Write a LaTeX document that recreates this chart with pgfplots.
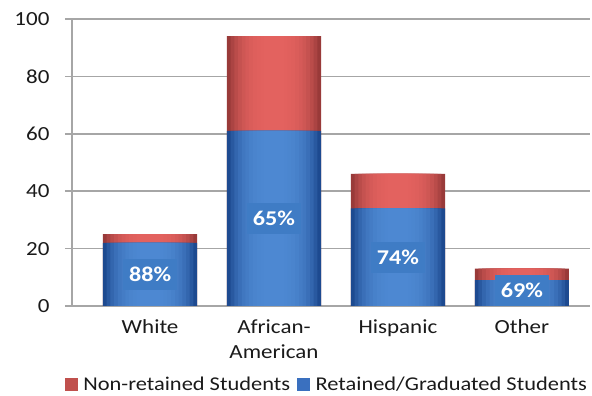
\documentclass[border=0pt]{standalone}
\usepackage{pgfplots}
\usepackage{pgfplotstable}
\pgfplotsset{compat=1.18}
\usepackage{fontspec}
\setmainfont{Carlito}[FakeStretch=1.15]
\definecolor{blueMid}{HTML}{4D88D2}
\definecolor{blueEdge}{HTML}{1D4A90}
\definecolor{redMid}{HTML}{E3625F}
\definecolor{redEdge}{HTML}{993A39}
\definecolor{boxBlue}{HTML}{3F7CC5}
\definecolor{legRed}{HTML}{C0504D}
\definecolor{legBlue}{HTML}{3A70BF}
\definecolor{gridGray}{HTML}{A6A6A6}
\definecolor{txt}{HTML}{1A1A1A}
\pgfplotstableread{
x ret total
0 22 25
1 61 94
2 34 46
3 9 13
}\data
\pgfplotstableread{
x y lab
0 11 88\%
1 30.5 65\%
2 17 74\%
3 5.5 69\%
}\labels
% one layer of a bar: width, colour mix (percent of middle colour), column
\newcommand\layer[4]{\addplot[ybar, bar shift=0pt, bar width=#1, draw=none,
  fill=#4Mid!#2!#4Edge, forget plot] table[x=x,y=#3]{\data};}
\newcommand\shadedbars[2]{%
  \layer{0.76}{0}{#1}{#2}
  \layer{0.70}{25}{#1}{#2}
  \layer{0.64}{45}{#1}{#2}
  \layer{0.58}{60}{#1}{#2}
  \layer{0.52}{72}{#1}{#2}
  \layer{0.46}{81}{#1}{#2}
  \layer{0.40}{88}{#1}{#2}
  \layer{0.34}{93}{#1}{#2}
  \layer{0.28}{96}{#1}{#2}
  \layer{0.22}{98}{#1}{#2}
  \layer{0.16}{100}{#1}{#2}
}
\begin{document}
\begin{tikzpicture}
\useasboundingbox (-72pt,-90pt) rectangle (520pt,306pt);
\begin{axis}[
  at={(0pt,0pt)}, anchor=south west,
  scale only axis, width=518pt, height=287pt,
  xmin=-0.63, xmax=3.55, ymin=0, ymax=100,
  xtick={0,1,2,3},
  xticklabels={White,{African-\\American},Hispanic,Other},
  xticklabel style={align=center, font=\fontsize{20}{25}\selectfont, text=txt},
  x tick style={draw=none},
  ytick={0,20,40,60,80,100},
  yticklabel style={font=\fontsize{20}{22}\selectfont, text=txt},
  /pgf/number format/assume math mode=true,
  tick align=outside, major tick length=7pt,
  y tick style={draw=gridGray, line width=1.5pt},
  ymajorgrids, grid style={draw=gridGray, line width=1.5pt},
  axis x line*=bottom, axis y line*=left,
  axis line style={draw=gridGray, line width=1.5pt, -},
  xticklabel shift=3pt, yticklabel shift=12pt,
  legend columns=2,
  legend style={at={(-0.014,-0.275)}, anchor=west, draw=none, fill=none,
    inner xsep=0pt,
    font=\fontsize{19.5}{22}\selectfont, text=txt,
    /tikz/every odd column/.append style={column sep=4pt},
    /tikz/every even column/.append style={column sep=5pt}},
]
\shadedbars{total}{red}
\shadedbars{ret}{blue}
\addlegendimage{legend image code/.code={\fill[legRed] (0pt,-5.5pt) rectangle (12pt,6.5pt);}}
\addlegendentry{Non-retained Students}
\addlegendimage{legend image code/.code={\fill[legBlue] (0pt,-5.5pt) rectangle (12pt,6.5pt);}}
\addlegendentry{Retained/Graduated Students}
\addplot[only marks, mark=none, nodes near coords, point meta=explicit symbolic,
  forget plot,
  nodes near coords style={anchor=center, fill=boxBlue, text=white,
    font=\fontsize{21}{24}\selectfont\bfseries, inner xsep=6pt,
    minimum height=31pt}]
  table[x=x, y=y, meta=lab]{\labels};
\end{axis}
\end{tikzpicture}
\end{document}
